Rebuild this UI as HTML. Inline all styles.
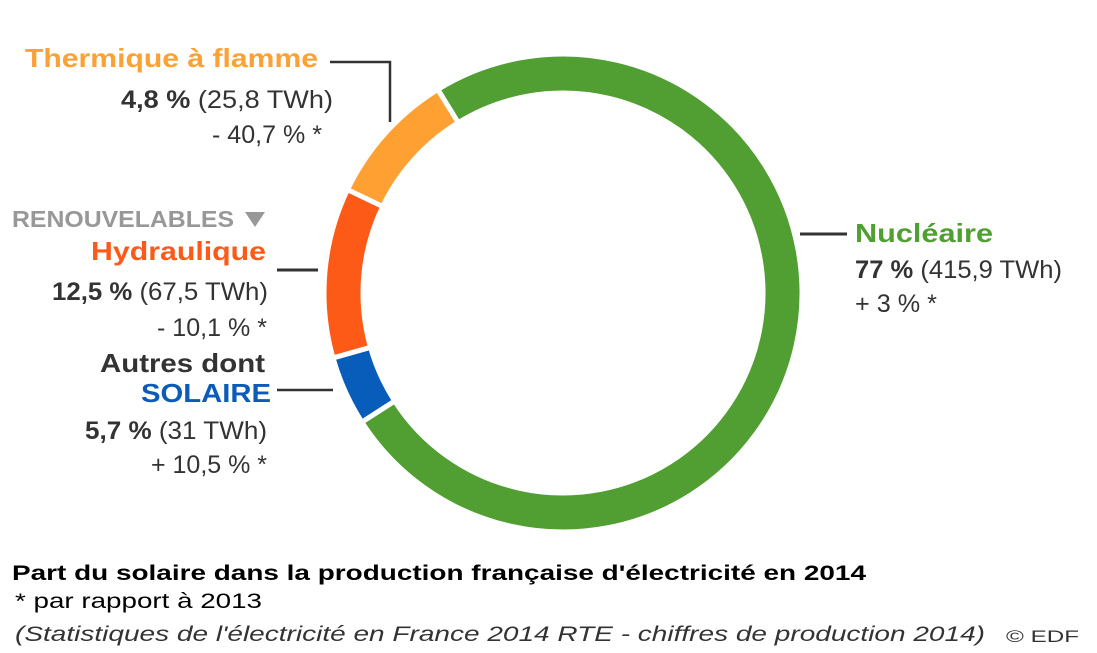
<!DOCTYPE html>
<html><head><meta charset="utf-8"><style>
html,body{margin:0;padding:0;background:#fff;}
svg{display:block;font-family:"Liberation Sans",Arial,sans-serif;}
</style></head><body>
<svg id="chart" width="1097" height="653" viewBox="0 0 1097 653" xmlns="http://www.w3.org/2000/svg">
<g id="slices"></g>
<g fill="#333">
  <text x="25" y="67" font-size="26" font-weight="bold" fill="#fda135" textLength="293" lengthAdjust="spacingAndGlyphs">Thermique à flamme</text>
  <text x="121" y="108" font-size="25" textLength="212" lengthAdjust="spacingAndGlyphs"><tspan font-weight="bold">4,8 %</tspan> (25,8 TWh)</text>
  <text x="212" y="143" font-size="25" textLength="110" lengthAdjust="spacingAndGlyphs">- 40,7 % *</text>
  <polyline points="330,62 390,62 390,122" fill="none" stroke="#333" stroke-width="2.5"/>

  <text x="12" y="227" font-size="23" font-weight="bold" fill="#989898" textLength="222" lengthAdjust="spacingAndGlyphs">RENOUVELABLES</text>
  <polygon points="245,212 265,212 255,227" fill="#989898"/>
  <text x="91" y="260" font-size="26" font-weight="bold" fill="#fd5a1a" textLength="175" lengthAdjust="spacingAndGlyphs">Hydraulique</text>
  <text x="52" y="300" font-size="25" textLength="216" lengthAdjust="spacingAndGlyphs"><tspan font-weight="bold">12,5 %</tspan> (67,5 TWh)</text>
  <text x="157" y="336" font-size="25" textLength="110" lengthAdjust="spacingAndGlyphs">- 10,1 % *</text>
  <line x1="277" y1="270" x2="318" y2="270" stroke="#333" stroke-width="3"/>

  <text x="100" y="372" font-size="26" font-weight="bold" textLength="165" lengthAdjust="spacingAndGlyphs">Autres dont</text>
  <text x="141" y="402" font-size="26" font-weight="bold" fill="#0a5cb8" textLength="130" lengthAdjust="spacingAndGlyphs">SOLAIRE</text>
  <text x="85" y="439" font-size="25" textLength="182" lengthAdjust="spacingAndGlyphs"><tspan font-weight="bold">5,7 %</tspan> (31 TWh)</text>
  <text x="151" y="473" font-size="25" textLength="116" lengthAdjust="spacingAndGlyphs">+ 10,5 % *</text>
  <line x1="277" y1="390" x2="333" y2="390" stroke="#333" stroke-width="2.5"/>

  <text x="855" y="242" font-size="26" font-weight="bold" fill="#4f9f31" textLength="138" lengthAdjust="spacingAndGlyphs">Nucléaire</text>
  <text x="855" y="278" font-size="25" textLength="207" lengthAdjust="spacingAndGlyphs"><tspan font-weight="bold">77 %</tspan> (415,9 TWh)</text>
  <text x="855" y="312" font-size="25" textLength="82" lengthAdjust="spacingAndGlyphs">+ 3 % *</text>
  <line x1="800" y1="234" x2="847" y2="234" stroke="#333" stroke-width="3"/>
</g>
<g fill="#000">
  <text x="12" y="580" font-size="21" font-weight="bold" textLength="854" lengthAdjust="spacingAndGlyphs">Part du solaire dans la production française d'électricité en 2014</text>
  <text x="15" y="608" font-size="21" textLength="247" lengthAdjust="spacingAndGlyphs">* par rapport à 2013</text>
  <text x="15" y="641" font-size="21" font-style="italic" fill="#333" textLength="970" lengthAdjust="spacingAndGlyphs">(Statistiques de l'électricité en France 2014 RTE - chiffres de production 2014)</text>
  <text x="1006" y="642" font-size="17" fill="#333" textLength="73" lengthAdjust="spacingAndGlyphs">© EDF</text>
</g>
</svg>
<script>
const categories = ["Nucléaire", "Autres dont solaire", "Hydraulique", "Thermique à flamme"];
const shares = [77, 5.7, 12.5, 4.8];
// arc sizes as drawn in the source graphic (percent of ring)
const arcShares = [74.7, 4.7, 11.5, 9.1];
const colors = ["#519f32", "#085cba", "#fe5a17", "#fea032"];
const cx = 563, cy = 293, rOut = 239, rIn = 200, startDeg = -31.6;
const total = arcShares.reduce((a, b) => a + b, 0);
function pt(r, deg) { const a = deg * Math.PI / 180; return [cx + r * Math.sin(a), cy - r * Math.cos(a)]; }
const g = document.getElementById('slices');
let a0 = startDeg;
arcShares.forEach((v, i) => {
  const a1 = a0 + v / total * 360;
  const large = (a1 - a0) > 180 ? 1 : 0;
  const p1 = pt(rOut, a0), p2 = pt(rOut, a1), p3 = pt(rIn, a1), p4 = pt(rIn, a0);
  const d = `M${p1[0]},${p1[1]} A${rOut},${rOut} 0 ${large} 1 ${p2[0]},${p2[1]} L${p3[0]},${p3[1]} A${rIn},${rIn} 0 ${large} 0 ${p4[0]},${p4[1]} Z`;
  const path = document.createElementNS('http://www.w3.org/2000/svg', 'path');
  path.setAttribute('d', d);
  path.setAttribute('fill', colors[i]);
  path.setAttribute('stroke', '#fff');
  path.setAttribute('stroke-width', '5');
  
  
  g.appendChild(path);
  a0 = a1;
});
</script>
</body></html>
